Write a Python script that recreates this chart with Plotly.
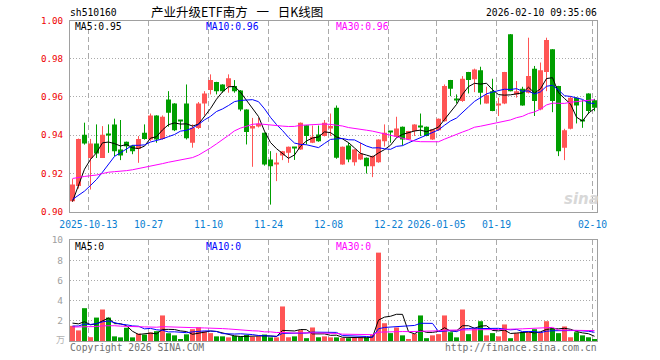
import plotly.graph_objects as go
import pandas as pd

# ---------------- data ----------------
opens = [0.9054, 0.9133, 0.9402, 0.9280, 0.9356, 0.9280, 0.9402, 0.9456, 0.9325, 0.9365,
         0.9346, 0.9328, 0.9412, 0.9377, 0.9503, 0.9380, 0.9587, 0.9566, 0.9474, 0.9566,
         0.9360, 0.9437, 0.9566, 0.9636, 0.9678, 0.9665, 0.9653, 0.9657, 0.9634, 0.9534,
         0.9437, 0.9445, 0.9412, 0.9272, 0.9250, 0.9293, 0.9307, 0.9335, 0.9325, 0.9451,
         0.9360, 0.9403, 0.9395, 0.9437, 0.9543, 0.9246, 0.9346, 0.9258, 0.9272, 0.9281,
         0.9237, 0.9258, 0.9368, 0.9420, 0.9391, 0.9444, 0.9377, 0.9421, 0.9443, 0.9444,
         0.9377, 0.9426, 0.9473, 0.9688, 0.9588, 0.9578, 0.9730, 0.9692, 0.9739, 0.9566,
         0.9630, 0.9558, 0.9566, 0.9928, 0.9613, 0.9643, 0.9622, 0.9748, 0.9534, 0.9730,
         0.9849, 0.9657, 0.9334, 0.9433, 0.9596, 0.9475, 0.9618, 0.9583]
closes = [0.9141, 0.9380, 0.9356, 0.9356, 0.9304, 0.9402, 0.9400, 0.9316, 0.9293, 0.9342,
          0.9316, 0.9380, 0.9380, 0.9503, 0.9377, 0.9496, 0.9517, 0.9426, 0.9472, 0.9384,
          0.9438, 0.9566, 0.9618, 0.9688, 0.9630, 0.9630, 0.9697, 0.9630, 0.9534, 0.9416,
          0.9447, 0.9460, 0.9246, 0.9237, 0.9255, 0.9316, 0.9339, 0.9333, 0.9465, 0.9395,
          0.9391, 0.9368, 0.9465, 0.9447, 0.9281, 0.9339, 0.9272, 0.9325, 0.9304, 0.9237,
          0.9290, 0.9377, 0.9412, 0.9418, 0.9435, 0.9377, 0.9421, 0.9456, 0.9441, 0.9395,
          0.9430, 0.9486, 0.9657, 0.9643, 0.9586, 0.9695, 0.9688, 0.9744, 0.9622, 0.9608,
          0.9526, 0.9560, 0.9730, 0.9630, 0.9630, 0.9555, 0.9709, 0.9578, 0.9740, 0.9898,
          0.9578, 0.9316, 0.9426, 0.9596, 0.9555, 0.9473, 0.9526, 0.9543]
highs = [0.9170, 0.9382, 0.9465, 0.9380, 0.9456, 0.9447, 0.9456, 0.9486, 0.9479, 0.9366,
         0.9348, 0.9395, 0.9456, 0.9513, 0.9504, 0.9503, 0.9630, 0.9567, 0.9476, 0.9665,
         0.9456, 0.9573, 0.9630, 0.9718, 0.9679, 0.9666, 0.9718, 0.9688, 0.9636, 0.9535,
         0.9490, 0.9490, 0.9413, 0.9316, 0.9307, 0.9317, 0.9340, 0.9336, 0.9466, 0.9452,
         0.9450, 0.9450, 0.9479, 0.9513, 0.9555, 0.9340, 0.9360, 0.9326, 0.9360, 0.9283,
         0.9293, 0.9378, 0.9456, 0.9421, 0.9496, 0.9445, 0.9422, 0.9457, 0.9513, 0.9445,
         0.9431, 0.9487, 0.9665, 0.9689, 0.9613, 0.9709, 0.9731, 0.9748, 0.9758, 0.9653,
         0.9695, 0.9596, 0.9731, 0.9929, 0.9683, 0.9653, 0.9910, 0.9762, 0.9780, 0.9910,
         0.9850, 0.9658, 0.9433, 0.9604, 0.9597, 0.9583, 0.9619, 0.9590]
lows = [0.9050, 0.9120, 0.9350, 0.9115, 0.9280, 0.9280, 0.9307, 0.9290, 0.9269, 0.9307,
        0.9300, 0.9255, 0.9376, 0.9368, 0.9360, 0.9376, 0.9444, 0.9421, 0.9430, 0.9377,
        0.9334, 0.9432, 0.9503, 0.9613, 0.9613, 0.9622, 0.9622, 0.9622, 0.9525, 0.9351,
        0.9234, 0.9440, 0.9240, 0.9036, 0.9159, 0.9269, 0.9255, 0.9270, 0.9323, 0.9351,
        0.9358, 0.9365, 0.9393, 0.9395, 0.9276, 0.9245, 0.9258, 0.9240, 0.9269, 0.9199,
        0.9180, 0.9255, 0.9340, 0.9360, 0.9388, 0.9346, 0.9376, 0.9395, 0.9395, 0.9394,
        0.9375, 0.9422, 0.9470, 0.9604, 0.9566, 0.9574, 0.9618, 0.9625, 0.9560, 0.9565,
        0.9525, 0.9500, 0.9562, 0.9629, 0.9596, 0.9554, 0.9618, 0.9500, 0.9530, 0.9630,
        0.9520, 0.9290, 0.9269, 0.9430, 0.9461, 0.9438, 0.9510, 0.9525]
volumes = [1.50, 1.05, 3.25, 0.38, 2.32, 3.12, 2.32, 0.46, 0.36, 1.31,
           0.36, 0.74, 0.64, 0.85, 0.97, 2.53, 0.77, 0.56, 0.16, 0.66,
           1.17, 1.36, 0.96, 0.78, 0.46, 0.46, 0.36, 0.50, 0.45, 0.60,
           0.42, 0.46, 0.64, 0.36, 0.36, 3.42, 0.37, 0.46, 1.08, 0.28,
           1.34, 0.37, 0.46, 0.36, 0.36, 0.30, 0.28, 0.30, 0.36, 0.36,
           0.60, 8.75, 1.76, 0.78, 1.34, 0.56, 0.17, 0.72, 2.53, 0.28,
           0.56, 0.68, 2.53, 0.87, 0.36, 3.12, 0.68, 1.25, 1.96, 0.56,
           0.78, 0.46, 1.64, 0.28, 0.78, 0.87, 0.87, 1.17, 0.86, 1.96,
           1.25, 0.78, 1.44, 0.37, 0.87, 0.56, 0.37, 0.17]
# sessions before the visible window (estimated from where the MA lines start)
prev_closes = [0.919, 0.922, 0.924, 0.920, 0.917, 0.919, 0.923, 0.925, 0.922, 0.918,
               0.920, 0.923, 0.921, 0.925, 0.928, 0.930, 0.927, 0.924, 0.926, 0.922,
               0.918, 0.912, 0.906, 0.899, 0.902, 0.897, 0.892, 0.910, 0.913]
prev_volumes = [1.2, 1.5, 0.9, 1.8, 1.1, 1.4, 1.0, 1.6, 1.3, 1.2,
                1.7, 1.1, 1.5, 1.3, 0.9, 1.6, 1.4, 1.2, 1.5, 1.4,
                1.0, 1.3, 0.8, 1.5, 1.35, 1.4, 2.2, 1.9, 1.85]
tick_idx = [3, 13, 23, 33, 43, 53, 61, 71, 87]
tick_labels = ["2025-10-13", "10-27", "11-10", "11-24", "12-08", "12-22",
               "2026-01-05", "01-19", "02-10"]
price_ticks = [0.90, 0.92, 0.94, 0.96, 0.98, 1.00]
vol_ticks = [2, 4, 6, 8, 10]
ma_periods = [5, 10, 30]

# ---------------- styling ----------------
W, H = 660, 360
UP, DOWN = "#ff5555", "#009e00"
MA_COLORS = {5: "#000000", 10: "#0000ff", 30: "#ff00ff"}
MONO = "DejaVu Sans Mono"
X0, X1 = 70, 597
MAIN_T, MAIN_B = 20.5, 211.5
VOL_T, VOL_B = 240, 341

n = len(closes)
xs = list(range(n))
up = [c >= o for o, c in zip(opens, closes)]

cs = pd.Series(prev_closes + closes)
vs = pd.Series(prev_volumes + volumes)
ma_p = {k: cs.rolling(k).mean().iloc[len(prev_closes):].tolist() for k in ma_periods}
ma_v = {k: vs.rolling(k).mean().iloc[len(prev_volumes):].tolist() for k in ma_periods}

fig = go.Figure()

# candle bodies and wicks
for flag, col in ((True, UP), (False, DOWN)):
    ix = [i for i in xs if up[i] == flag]
    base = [min(opens[i], closes[i]) for i in ix]
    hgt = [max(abs(closes[i] - opens[i]), 0.0005) for i in ix]
    fig.add_trace(go.Bar(x=ix, y=hgt, base=base, width=5 / 6, marker_color=col,
                         marker_line_width=0, xaxis="x", yaxis="y"))
    wx, wy = [], []
    for i in ix:
        wx += [i, i, None]
        wy += [lows[i], highs[i], None]
    fig.add_trace(go.Scatter(x=wx, y=wy, mode="lines", line=dict(color=col, width=1),
                             xaxis="x", yaxis="y"))

for k in ma_periods:
    fig.add_trace(go.Scatter(x=xs, y=ma_p[k], mode="lines",
                             line=dict(color=MA_COLORS[k], width=1), xaxis="x", yaxis="y"))

# volume
for flag, col in ((True, UP), (False, DOWN)):
    ix = [i for i in xs if up[i] == flag]
    fig.add_trace(go.Bar(x=ix, y=[volumes[i] for i in ix], width=5 / 6, marker_color=col,
                         marker_line_width=0, xaxis="x2", yaxis="y2"))
for k in ma_periods:
    fig.add_trace(go.Scatter(x=xs, y=ma_v[k], mode="lines",
                             line=dict(color=MA_COLORS[k], width=1), xaxis="x2", yaxis="y2"))

xr = [-5 / 12, n - 1 + 5 / 12]
grid_x = [t - 1 / 3 for t in tick_idx]
common_x = dict(domain=[X0 / W, X1 / W], range=xr, showgrid=True, gridcolor="#aaaaaa",
                griddash="5px,3px", gridwidth=1, zeroline=False, showline=True,
                linecolor="#a0a0a0", linewidth=1, mirror=True, tickvals=grid_x, ticks="",
                fixedrange=True, automargin=False)

fig.update_layout(
    width=W, height=H, margin=dict(l=0, r=0, t=0, b=0, pad=0, autoexpand=False),
    paper_bgcolor="white", plot_bgcolor="white", showlegend=False,
    barmode="overlay", hovermode=False,
    xaxis=dict(**common_x, anchor="y", ticktext=tick_labels,
               tickfont=dict(family=MONO, size=9.7, color="#0a80d2"), ticklabelstandoff=4),
    xaxis2=dict(**common_x, anchor="y2", showticklabels=False),
    yaxis=dict(domain=[1 - MAIN_B / H, 1 - MAIN_T / H], range=[0.90, 1.00],
               tickvals=price_ticks, ticktext=[f"{v:.2f}" for v in price_ticks],
               tickfont=dict(family=MONO, size=9.2, color="#ee0000"), ticks="",
               ticklabelstandoff=4, showgrid=True, gridcolor="#aaaaaa", griddash="1px,2px",
               zeroline=False, showline=True, linecolor="#a0a0a0", mirror=True,
               fixedrange=True, anchor="x", automargin=False),
    yaxis2=dict(domain=[1 - VOL_B / H, 1 - VOL_T / H], range=[0, 10],
                tickvals=vol_ticks, ticktext=[str(v) for v in vol_ticks],
                tickfont=dict(family=MONO, size=9.5, color="#a0a0a0"), ticks="",
                ticklabelstandoff=4, showgrid=True, gridcolor="#aaaaaa", griddash="1px,2px",
                zeroline=False, showline=True, linecolor="#a0a0a0", mirror=True,
                fixedrange=True, anchor="x2", automargin=False),
)


def txt(x, y, s, color="#000", size=9.7, family=MONO, anchor="left"):
    fig.add_annotation(x=x / W, y=1 - y / H, xref="paper", yref="paper", text=s,
                       showarrow=False, xanchor=anchor, yanchor="middle", align=anchor,
                       borderpad=0,
                       font=dict(family=family, size=size, color=color))


txt(69, 13, "sh510160")
txt(150, 12, "产业升级ETF南方\u2002\u2009一\u2002\u2009日K线图", size=12.5,
    family="Noto Sans CJK SC")
txt(598, 13, "2026-02-10 09:35:06", anchor="right")

legend_x = {5: 74, 10: 205, 30: 335}
for k in ma_periods:
    txt(legend_x[k], 26.5, f"MA{k}:{ma_p[k][-1]:.2f}", color=MA_COLORS[k])
    txt(legend_x[k], 246, f"MA{k}:0", color=MA_COLORS[k])

txt(66, 339, "万", color="#b0b0b0", size=9, family="Noto Sans CJK SC", anchor="right")
txt(69, 347, "Copyright 2026 SINA.COM", color="#707070")
txt(598, 347, "http://finance.sina.com.cn", color="#707070", anchor="right")
txt(581, 199, "<b><i>sina</i></b>", color="#d8d8d8", size=15, family="DejaVu Sans",
    anchor="center")

fig.write_html("out.html")
